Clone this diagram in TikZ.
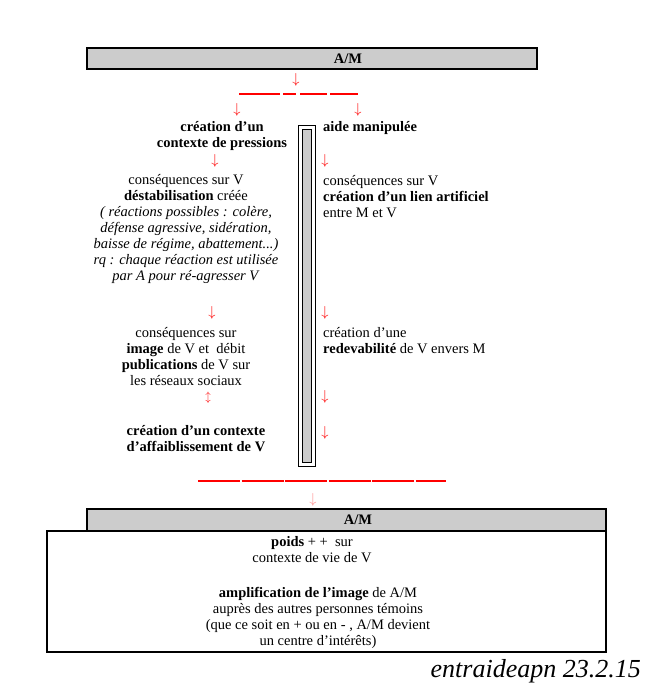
\documentclass[tikz,border=0pt]{standalone}
\usepackage{fontspec}
\setmainfont{Liberation Serif}
\usepackage{amssymb}
\usetikzlibrary{positioning}

\begin{document}
\begin{tikzpicture}[x=1pt,y=-1pt,
    every node/.style={font=\fontsize{14.5}{16}\selectfont,inner sep=0pt},
    vet/.style={font=\fontsize{14.5}{16}\selectfont\bfseries},
    pijl/.style={text=red},
    rood/.style={red,line width=2.4pt},
    kop/.style={draw,line width=1.2pt,fill=black!20}]
  \useasboundingbox (0,0) rectangle (655,700);
  % top box
  \draw[kop] (87,48) rectangle (537,69);
  \node[vet] (am1) at (348,58.5) {A/M};
  \node[pijl] (p0) at (296,80) {$\downarrow$};
  % the split line
  \draw[rood] (239,94) -- (280,94);
  \draw[rood] (283,94) -- (296,94);
  \draw[rood] (300,94) -- (327,94);
  \draw[rood] (330,94) -- (358,94);
  \node[pijl] (pL) at (237,110) {$\downarrow$};
  \node[pijl] (pR) at (358,110) {$\downarrow$};
  % the separating bar
  \draw[fill=white] (298,125) rectangle (315,466);
  \draw[fill=black!20] (302,129) rectangle (311,462);
  % left side
  \node[vet,align=center] (pressions) at (222,136)
    {création d'un\\ contexte de pressions};
  \node[pijl] (pL1) at (215,161) {$\downarrow$};
  \node[align=center] (destab) at (186,229)
    {conséquences sur V\\
     \textbf{déstabilisation} créée\\
     \textit{( réactions possibles : colère,}\\
     \textit{défense agressive, sidération,}\\
     \textit{baisse de régime, abattement...)}\\
     \textit{rq : chaque réaction est utilisée}\\
     \textit{par A pour ré-agresser V}};
  \node[pijl] (pL2) at (212,313) {$\downarrow$};
  \node[align=center] (image) at (186,357)
    {conséquences sur\\
     \textbf{image} de V et~ débit\\
     \textbf{publications} de V sur\\
     les réseaux sociaux};
  \node[pijl,font=\fontsize{11}{12}\selectfont] (pL3) at (208,398) {$\updownarrow$};
  \node[vet,align=center] (affaib) at (196,439)
    {création d'un contexte\\ d'affaiblissement de V};
  % right side
  \node[vet,anchor=west] (aide) at (323,128) {aide manipulée};
  \node[pijl] (pR1) at (325,161) {$\downarrow$};
  \node[anchor=west,align=left] (lien) at (323,197)
    {conséquences sur V\\
     \textbf{création d'un lien artificiel}\\
     entre M et V};
  \node[pijl] (pR2) at (325,313) {$\downarrow$};
  \node[anchor=west,align=left] (redev) at (323,341)
    {création d'une\\
     \textbf{redevabilité} de V envers M};
  \node[pijl] (pR3) at (325,397) {$\downarrow$};
  \node[pijl] (pR4) at (325,433) {$\downarrow$};
  % the joining line
  \draw[rood,dash pattern=on 42pt off 1.5pt] (198,481) -- (446,481);
  \node[text=red!45] (p5) at (313,500) {$\downarrow$};
  % bottom box
  \draw[line width=1.2pt] (47,531) rectangle (606,652);
  \draw[kop] (87,509) rectangle (606,531);
  \node[vet] (am2) at (358,520) {A/M};
  \node[align=center] (poids) at (312,550)
    {\textbf{poids} + +~ sur\\ contexte de vie de V};
  \node[align=center] (ampli) at (318,618)
    {\textbf{amplification de l'image} de A/M\\
     auprès des autres personnes témoins\\
     (que ce soit en + ou en - , A/M devient\\
     un centre d'intérêts)};
  \node[anchor=east,font=\fontsize{26}{28}\selectfont\itshape] (sign) at (641,671) {entraideapn 23.2.15};
\end{tikzpicture}
\end{document}
